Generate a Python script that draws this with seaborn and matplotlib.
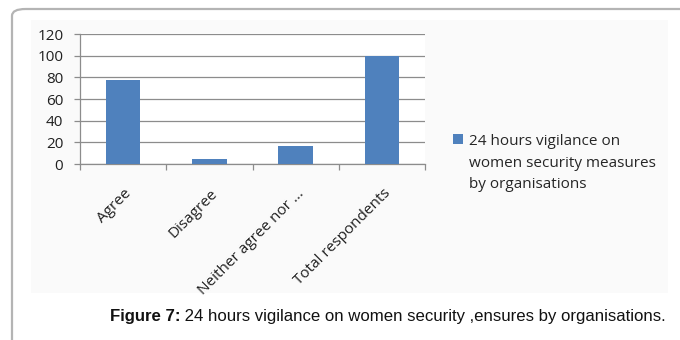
import matplotlib
matplotlib.use("Agg")
import matplotlib.pyplot as plt
from matplotlib.patches import FancyBboxPatch, Rectangle
from matplotlib.transforms import ScaledTranslation
import seaborn as sns
import pandas as pd

categories = ["Agree", "Disagree", "Neither agree nor ...", "Total respondents"]
values = [78, 5, 17, 100]
series_name = "24 hours vigilance on\nwomen security measures\nby organisations"
y_ticks = [0, 20, 40, 60, 80, 100, 120]
caption_bold = "Figure 7:"
caption_rest = " 24 hours vigilance on women security ,ensures by organisations."

bar_color = "#4F81BD"
grid_color = "#8c8c8c"
label_font = ["Open Sans", "DejaVu Sans"]
label_size = 11
legend_spacing = 1.56

df = pd.DataFrame({"category": categories, "value": values})

sns.set_style("white")
plt.rcParams["font.family"] = ["Liberation Sans", "DejaVu Sans"]

fig = plt.figure(figsize=(6.8, 3.4), dpi=100)
fig.patch.set_facecolor("white")

# outer frame around the figure panel
frame = FancyBboxPatch((12 / 680, -0.2), 1.2, (340 - 9) / 340 + 0.2,
                       boxstyle="round,pad=0,rounding_size=0.02",
                       transform=fig.transFigure, fill=False,
                       edgecolor="#b4b4b4", linewidth=1.6, zorder=-2)
fig.patches.append(frame)

# faint chart background panel
panel = Rectangle((31 / 680, 1 - 293 / 340), (668 - 31) / 680, (293 - 20) / 340,
                  transform=fig.transFigure, facecolor="#fafafa",
                  edgecolor="none", zorder=-1)
fig.patches.append(panel)

ax = fig.add_axes([80 / 680, 1 - 164 / 340, 345 / 680, 130 / 340])
ax.set_zorder(2)
ax.set_facecolor("white")
sns.barplot(data=df, x="category", y="value", color=bar_color, width=0.4,
            saturation=1, ax=ax, zorder=3, edgecolor="none")

ax.set_ylim(0, 120)
ax.set_xlim(-0.5, len(categories) - 0.5)
ax.set_yticks(y_ticks)
ax.set_yticklabels([str(t) for t in y_ticks], fontsize=label_size,
                   family=label_font, color="#202020")
ax.yaxis.grid(True, color=grid_color, linewidth=0.9, zorder=0)
ax.set_axisbelow(True)
ax.tick_params(axis="y", length=4.5, width=0.9, color=grid_color, pad=7.5,
               left=True)

# category tick marks sit between the bars
ax.set_xticks([i + 0.5 for i in range(-1, len(categories))], minor=True)
ax.tick_params(axis="x", which="minor", length=4, width=0.9, color=grid_color,
               bottom=True)
ax.tick_params(axis="x", which="major", length=0, pad=16)
ax.set_xticks(range(len(categories)))
ax.set_xticklabels(categories, rotation=45, ha="right", va="top",
                   rotation_mode="anchor", fontsize=label_size,
                   family=label_font, color="#202020")
shift = ScaledTranslation(1 / 100, 0, fig.dpi_scale_trans)
for lbl in ax.get_xticklabels():
    lbl.set_transform(lbl.get_transform() + shift)

ax.set_xlabel("")
ax.set_ylabel("")
for side in ["top", "right"]:
    ax.spines[side].set_visible(False)
for side in ["left", "bottom"]:
    ax.spines[side].set_color(grid_color)
    ax.spines[side].set_linewidth(0.9)

handle = Rectangle((0, 0), 1, 1, facecolor=bar_color, edgecolor="none")
leg = fig.legend([handle], [series_name], loc="center left",
                 bbox_to_anchor=(453 / 680, 1 - 163 / 340), frameon=False,
                 prop={"family": label_font, "size": label_size},
                 handlelength=0.66, handleheight=0.66, handletextpad=0.4,
                 borderpad=0, borderaxespad=0)
leg.get_texts()[0].set_linespacing(legend_spacing)
# put the colour square beside the first line of the label
sq = leg.legend_handles[0]
sq.set_y(sq.get_y() + label_size * legend_spacing)

fig.text(110 / 680, 1 - 317 / 340, caption_bold, fontsize=12.1,
         fontweight="bold", va="center", ha="left", color="#111111")
fig.canvas.draw()
renderer = fig.canvas.get_renderer()
bb = fig.texts[-1].get_window_extent(renderer)
fig.text(bb.x1 / fig.bbox.width, 1 - 317 / 340, caption_rest, fontsize=12.1,
         va="center", ha="left", color="#111111")

fig.savefig("out.png", dpi=100, facecolor="white")
